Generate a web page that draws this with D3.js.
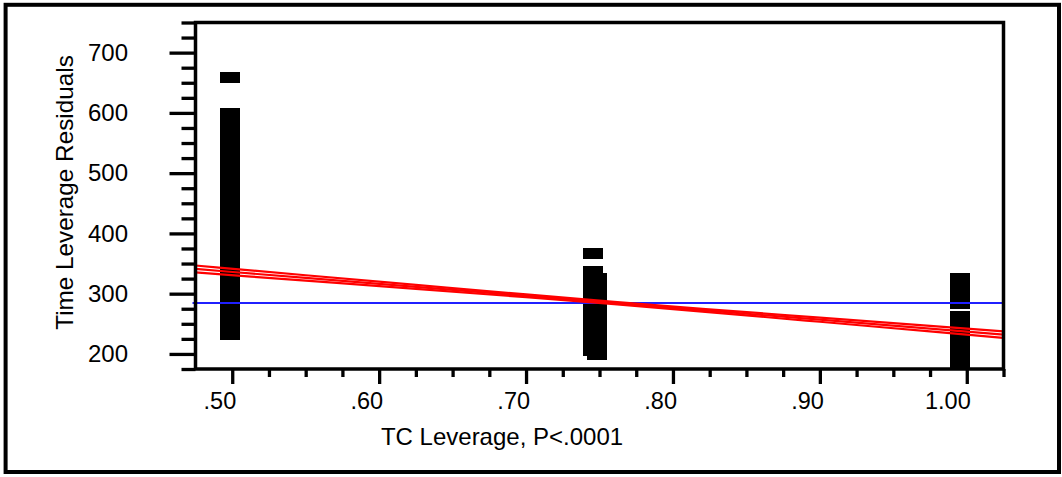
<!DOCTYPE html>
<html>
<head>
<meta charset="utf-8">
<script src="https://cdn.jsdelivr.net/npm/d3@7"></script>
<style>
  html, body { margin: 0; padding: 0; background: #fff; }
  svg { display: block; font-family: "Liberation Sans", Arial, sans-serif; }
</style>
</head>
<body>
<svg id="chart" width="1062" height="477"></svg>
<script>
// ---- data ----
const xTickMajor = [0.50, 0.60, 0.70, 0.80, 0.90, 1.00];
const xTickLabels = [".50", ".60", ".70", ".80", ".90", "1.00"];
const xTickMinor = [0.525, 0.55, 0.575, 0.625, 0.65, 0.675, 0.725, 0.75, 0.775,
                    0.825, 0.85, 0.875, 0.925, 0.95, 0.975, 1.025];
const yTickMajor = [200, 300, 400, 500, 600, 700];
const yTickMinor = [175, 225, 250, 275, 325, 350, 375, 425, 450, 475, 525, 550, 575,
                    625, 650, 675, 725, 750];

// residual points: x leverage and y leverage residual
const col50X = 0.4985;
const col50Y = [659, 599, 590, 578, 569, 557, 546, 535, 524, 512, 503, 490, 481, 470,
                458, 447, 436, 425, 414, 402, 391, 380, 369, 357, 346, 335, 324, 312,
                301, 290, 279, 268, 256, 245, 232];
const col75aX = 0.7456;
const col75aY = [367, 337, 326, 315, 303, 292, 281, 270, 259, 247, 236, 225, 215, 206];
const col75bX = 0.7483;
const col75bY = [325, 314, 302, 290, 279, 267, 256, 244, 233, 221, 210, 199];
const col100X = 0.9957;
const col100Y = [325, 314, 303, 294, 284, 262, 251, 240, 229, 218, 207, 196, 185, 182];

// fit line and confidence curves
const fitX     = [0.475, 0.55, 0.625, 0.70, 0.76, 0.82, 0.90, 0.975, 1.025];
const fitY     = [341.0, 326.1, 311.3, 296.4, 284.5, 272.6, 256.8, 241.9, 232.0];
const upperY   = [346.8, 330.6, 314.6, 298.7, 286.5, 274.9, 260.2, 246.5, 237.4];
const lowerY   = [335.2, 321.6, 308.0, 294.1, 282.5, 270.3, 253.4, 237.3, 226.6];
const meanY = 284.5;

const xDomain = [0.475, 1.025];
const yDomain = [175, 750];

// ---- layout ----
const svg = d3.select("#chart");
const L = 195.5, R = 1003.5, T = 22.5, B = 369;
const x = d3.scaleLinear().domain(xDomain).range([L, R]);
const y = d3.scaleLinear().domain(yDomain).range([B, T]);
const FONT = '"Liberation Sans", Arial, sans-serif';

// outer border
svg.append("rect").attr("x", 5.6).attr("y", 4.8).attr("width", 1053.4).attr("height", 467.2)
  .attr("fill", "none").attr("stroke", "#000").attr("stroke-width", 4);

// points
const pts = [];
col50Y.forEach(v => pts.push([col50X, v]));
col75aY.forEach(v => pts.push([col75aX, v]));
col75bY.forEach(v => pts.push([col75bX, v]));
col100Y.forEach(v => pts.push([col100X, v]));
const mw = 20, mh = 11;
svg.append("g").attr("shape-rendering", "crispEdges")
  .selectAll("rect").data(pts).join("rect")
  .attr("x", d => Math.round(x(d[0]) - mw / 2))
  .attr("y", d => Math.round(y(d[1]) - mh / 2))
  .attr("width", mw).attr("height", mh)
  .attr("fill", "#000");

// mean line
svg.append("line")
  .attr("x1", x(xDomain[0]) - 3).attr("x2", x(xDomain[1]))
  .attr("y1", y(meanY)).attr("y2", y(meanY))
  .attr("stroke", "#2020ff").attr("stroke-width", 2);

// fit + confidence curves
const lineGen = d3.line().x(d => x(d[0])).y(d => y(d[1])).curve(d3.curveMonotoneX);
[upperY, fitY, lowerY].forEach(arr => {
  svg.append("path")
    .attr("d", lineGen(fitX.map((v, i) => [v, arr[i]])))
    .attr("fill", "none").attr("stroke", "#ff0000").attr("stroke-width", 2.2);
});

// frame
svg.append("rect").attr("x", L).attr("y", T).attr("width", R - L).attr("height", B - T)
  .attr("fill", "none").attr("stroke", "#000").attr("stroke-width", 3.5);

// axes
function styleAxis(g) {
  g.select(".domain").remove();
  g.selectAll(".tick line").attr("stroke", "#000").attr("stroke-width", 3.3);
}
// y minor
svg.append("g").attr("transform", `translate(${L},0)`)
  .call(d3.axisLeft(y).tickValues(yTickMinor).tickSize(14).tickFormat(""))
  .call(styleAxis);
// y major
svg.append("g").attr("transform", `translate(${L},0)`)
  .call(d3.axisLeft(y).tickValues(yTickMajor).tickSize(26).tickPadding(41.5).tickFormat(d3.format("d")))
  .call(styleAxis)
  .call(g => g.selectAll("text").attr("font-size", 24).attr("fill", "#000")
    .attr("font-family", FONT));
// x minor
svg.append("g").attr("transform", `translate(0,${B})`)
  .call(d3.axisBottom(x).tickValues(xTickMinor).tickSize(8).tickFormat(""))
  .call(styleAxis);
// x major
svg.append("g").attr("transform", `translate(0,${B})`)
  .call(d3.axisBottom(x).tickValues(xTickMajor).tickSize(15).tickPadding(8.2)
    .tickFormat((d, i) => xTickLabels[i]))
  .call(styleAxis)
  .call(g => g.selectAll("text").attr("font-size", 23.5).attr("fill", "#000")
    .attr("text-anchor", "end").attr("dx", 3.5)
    .attr("font-family", FONT));

// axis titles
svg.append("text").attr("x", 502).attr("y", 445).attr("text-anchor", "middle")
  .attr("font-size", 24).attr("fill", "#000").attr("font-family", FONT)
  .text("TC Leverage, P<.0001");
svg.append("text").attr("transform", "translate(72.5,192.5) rotate(-90)")
  .attr("text-anchor", "middle").attr("font-size", 24.3).attr("fill", "#000")
  .attr("font-family", FONT)
  .text("Time Leverage Residuals");
</script>
</body>
</html>
